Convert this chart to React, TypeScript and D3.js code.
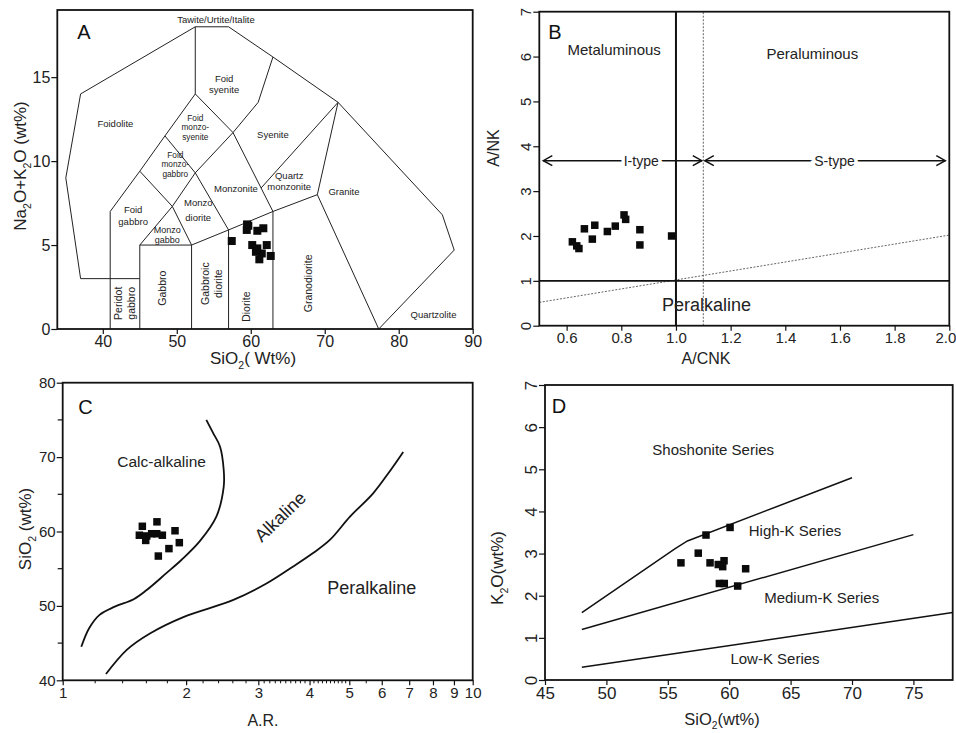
import React, { useEffect, useRef } from 'react';
import * as d3 from 'd3';

// ---------- Panel A: TAS (Middlemost) ----------
const tasOutline = [[45, 3], [37, 3], [35, 9], [37, 14], [52.5, 18], [57, 18], [63, 16.2], [71.8, 13.5], [85.9, 6.8], [87.5, 4.7], [77.3, 0]];
const tasLines = [
    [[52.5, 18], [52.5, 14]],
    [[41, 7], [45, 9.4], [48.4, 11.5], [52.5, 14], [57.6, 11.7], [61, 13.5], [63, 16.2]],
    [[41, 0], [41, 7]],
    [[45, 0], [45, 5], [49.4, 7.3], [52.5, 9.3], [57.6, 11.7]],
    [[45, 9.4], [49.4, 7.3], [52, 5]],
    [[48.4, 11.5], [52.5, 9.3], [57, 5.9]],
    [[57.6, 11.7], [63, 7]],
    [[61.4, 8.4], [71.8, 13.5]],
    [[69, 8], [71.8, 13.5]],
    [[45, 5], [52, 5], [57, 5.9], [63, 7], [69, 8], [77.3, 0]],
    [[52, 0], [52, 5]],
    [[57, 0], [57, 5.9]],
    [[63, 0], [63, 7]],
];
const tasLabels = [
    { t: ['Tawite/Urtite/Italite'], x: 55.3, y: 18.4, gap: 10, fs: 9.5 },
    { t: ['Foidolite'], x: 41.7, y: 12.2, gap: 10, fs: 9.5 },
    { t: ['Foid', 'syenite'], x: 56.4, y: 14.6, gap: 11, fs: 9.5 },
    { t: ['Foid', 'monzo-', 'syenite'], x: 52.5, y: 12.0, gap: 9.2, fs: 8.3 },
    { t: ['Syenite'], x: 63.0, y: 11.55, gap: 10, fs: 9.5 },
    { t: ['Foid', 'monzo-', 'gabbro'], x: 49.8, y: 9.8, gap: 9.2, fs: 8.3 },
    { t: ['Quartz', 'monzonite'], x: 65.2, y: 8.8, gap: 11, fs: 9.5 },
    { t: ['Monzonite'], x: 58.0, y: 8.38, gap: 10, fs: 9.5 },
    { t: ['Granite'], x: 72.6, y: 8.15, gap: 10, fs: 9.5 },
    { t: ['Foid', 'gabbro'], x: 44.1, y: 6.75, gap: 12.5, fs: 9.5 },
    { t: ['Monzo', 'diorite'], x: 52.9, y: 7.05, gap: 15, fs: 9.5 },
    { t: ['Monzo', 'gabbo'], x: 48.7, y: 5.6, gap: 10.5, fs: 9 },
    { t: ['Quartzolite'], x: 84.7, y: 0.86, gap: 10, fs: 9.5 },
];
const tasVertLabels = [
    { t: ['Peridot', 'gabbro'], x: 42.95, y: 1.53 },
    { t: ['Gabbro'], x: 48.0, y: 2.43 },
    { t: ['Gabbroic', 'diorite'], x: 54.75, y: 2.7 },
    { t: ['Diorite'], x: 59.45, y: 1.33 },
    { t: ['Granodiorite'], x: 67.8, y: 2.72 },
];
const samplesA = [
    [59.67, 6.15], [59.46, 5.9], [60.89, 5.85], [61.7, 6.0], [57.43, 5.24], [60.2, 5.0],
    [60.89, 4.8], [62.16, 5.0], [61.49, 4.5], [61.16, 4.15], [62.7, 4.35], [60.7, 4.6], [59.5, 6.23],
];
const ticksA_x = [40, 50, 60, 70, 80, 90];
const ticksA_y = [0, 5, 10, 15];

// ---------- Panel B: A/CNK vs A/NK ----------
const samplesB = [
    [0.621, 1.87], [0.637, 1.78], [0.645, 1.72], [0.665, 2.16], [0.694, 1.93], [0.703, 2.24],
    [0.749, 2.10], [0.778, 2.22], [0.81, 2.47], [0.816, 2.37], [0.868, 2.14], [0.868, 1.80], [0.984, 2.0],
];
const ticksB_x = [0.6, 0.8, 1.0, 1.2, 1.4, 1.6, 1.8, 2.0];
const ticksB_y = [0, 1, 2, 3, 4, 5, 6, 7];
const diagonalB = [[0.5, 0.52], [2.0, 2.02]];
const typeArrowY = 3.68;

// ---------- Panel C: A.R. vs SiO2 ----------
const calcAlkCurve = [
    [1.11, 44.5], [1.16, 47], [1.23, 48.8], [1.34, 49.9], [1.49, 50.9], [1.6, 52.1], [1.79, 54.4],
    [1.95, 56.2], [2.16, 58.7], [2.37, 62], [2.47, 66], [2.47, 68.3], [2.42, 71.4], [2.33, 73.2], [2.24, 75],
];
const alkCurve = [
    [1.275, 40.85], [1.433, 44.1], [1.632, 46.3], [1.969, 48.5], [2.608, 50.8], [3.14, 53.0],
    [3.65, 55.3], [4.08, 57.1], [4.49, 58.9], [5.02, 62.0], [5.71, 65.1], [6.22, 67.8], [6.77, 70.7],
];
const samplesC = [
    [1.564, 60.7], [1.698, 61.3], [1.538, 59.5], [1.603, 59.4], [1.594, 58.8], [1.696, 59.7],
    [1.75, 59.5], [1.879, 60.1], [1.925, 58.5], [1.816, 57.7], [1.711, 56.7], [1.648, 59.7],
];
const ticksC_x = [1, 2, 3, 4, 5, 6, 7, 8, 9, 10];
const minorC_x = [1.2, 1.4, 1.6, 1.8, 2.2, 2.4, 2.6, 2.8, 3.1, 3.2, 3.3, 3.4, 3.5, 3.6, 3.7, 3.8, 3.9,
    4.1, 4.2, 4.3, 4.4, 4.5, 4.6, 4.7, 4.8, 4.9, 5.5];
const ticksC_y = [40, 50, 60, 70, 80];
const minorC_y = [45, 55, 65, 75];

// ---------- Panel D: SiO2 vs K2O ----------
const shoshoniteLine = [[48, 1.6], [55.6, 3.12], [56.6, 3.3], [70, 4.8]];
const highKLine = [[48, 1.2], [75, 3.45]];
const lowKLine = [[48, 0.3], [78.2, 1.6]];
const samplesD = [
    [58.11, 3.44], [60.07, 3.62], [56.07, 2.78], [57.48, 3.01], [58.44, 2.78], [59.11, 2.74],
    [59.58, 2.83], [59.47, 2.69], [61.34, 2.64], [59.2, 2.29], [59.6, 2.29], [60.69, 2.23],
];
const ticksD_x = [45, 50, 55, 60, 65, 70, 75];
const ticksD_y = [0, 1, 2, 3, 4, 5, 6, 7];

const FONT = '"Liberation Sans", Arial, Helvetica, sans-serif';

const App = () => {
    const svgRef = useRef(null);

    useEffect(() => {
        const svg = d3.select(svgRef.current);
        svg.selectAll('*').remove();

        // text with subscripts: odd entries are subscripts
        const subText = (sel, parts, fs) => {
            const shift = fs * 0.28;
            parts.forEach((p, i) => {
                const t = sel.append('tspan').text(p);
                if (i % 2 === 1) t.attr('font-size', fs * 0.62).attr('dy', shift);
                else if (i > 0) t.attr('dy', -shift);
            });
        };

        const frame = (g, x, y) => {
            g.append('rect')
                .attr('x', x.range()[0]).attr('y', y.range()[1])
                .attr('width', x.range()[1] - x.range()[0])
                .attr('height', y.range()[0] - y.range()[1])
                .attr('fill', 'none').attr('stroke', '#111').attr('stroke-width', 1.8);
        };

        const axes = (g, x, y, xt, yt, fmtX, fmtY, fs, rotY) => {
            const ax = g.append('g')
                .attr('transform', `translate(0,${y.range()[0]})`)
                .call(d3.axisBottom(x).tickValues(xt).tickFormat(fmtX).tickSize(5).tickSizeOuter(0));
            const ay = g.append('g')
                .attr('transform', `translate(${x.range()[0]},0)`)
                .call(d3.axisLeft(y).tickValues(yt).tickFormat(fmtY).tickSize(6).tickSizeOuter(0));
            [ax, ay].forEach((a) => {
                a.select('.domain').remove();
                a.attr('font-family', FONT).attr('font-size', fs).attr('color', '#111');
                a.selectAll('line').attr('stroke-width', 1.2);
                a.selectAll('text').attr('fill', '#222');
            });
            ax.selectAll('text').attr('y', 7);
            ay.selectAll('text').attr('x', -7);
            if (rotY) {
                ay.selectAll('text')
                    .attr('transform', 'rotate(-90)')
                    .attr('x', 0).attr('y', -8).attr('dy', 0)
                    .attr('text-anchor', 'middle');
            }
            return ax;
        };

        const squares = (g, x, y, pts, s) => {
            g.append('g').selectAll('rect').data(pts).enter().append('rect')
                .attr('x', (d) => x(d[0]) - s / 2).attr('y', (d) => y(d[1]) - s / 2)
                .attr('width', s).attr('height', s).attr('fill', '#0a0a0a');
        };

        const label = (g, str, px, py, fs, anchor = 'middle') =>
            g.append('text').attr('x', px).attr('y', py).attr('dy', '0.35em')
                .attr('text-anchor', anchor).attr('font-family', FONT).attr('font-size', fs)
                .attr('fill', '#222').text(str);

        const yTitle = (g, parts, px, py, fs) => {
            const t = g.append('text').attr('transform', `translate(${px},${py}) rotate(-90)`)
                .attr('text-anchor', 'middle').attr('dy', '0.35em')
                .attr('font-family', FONT).attr('font-size', fs).attr('fill', '#222');
            subText(t, parts, fs);
        };
        const xTitle = (g, parts, px, py, fs) => {
            const t = g.append('text').attr('x', px).attr('y', py)
                .attr('text-anchor', 'middle').attr('dy', '0.35em')
                .attr('font-family', FONT).attr('font-size', fs).attr('fill', '#222');
            subText(t, parts, fs);
        };
        const letter = (g, s, x, y, dx, dy) =>
            g.append('text').attr('x', x.range()[0] + dx).attr('y', y.range()[1] + dy)
                .attr('font-family', FONT).attr('font-size', 20).attr('fill', '#111').text(s);

        // ============ A ============
        const gA = svg.append('g');
        const xA = d3.scaleLinear().domain([33.85, 90]).range([57.3, 472.7]);
        const yA = d3.scaleLinear().domain([0, 19]).range([329, 10]);
        const lineA = d3.line().x((d) => xA(d[0])).y((d) => yA(d[1]));
        gA.append('path').attr('d', lineA(tasOutline)).attr('fill', 'none').attr('stroke', '#222').attr('stroke-width', 1);
        gA.selectAll('.fld').data(tasLines).enter().append('path').attr('class', 'fld')
            .attr('d', (d) => lineA(d)).attr('fill', 'none').attr('stroke', '#222').attr('stroke-width', 1);
        tasLabels.forEach((l) => {
            const n = l.t.length;
            l.t.forEach((s, i) => label(gA, s, xA(l.x), yA(l.y) + (i - (n - 1) / 2) * l.gap, l.fs));
        });
        tasVertLabels.forEach((l) => {
            const n = l.t.length;
            l.t.forEach((s, i) => {
                gA.append('text')
                    .attr('transform', `translate(${xA(l.x) + (i - (n - 1) / 2) * 12.5},${yA(l.y)}) rotate(-90)`)
                    .attr('text-anchor', 'middle').attr('dy', '0.35em')
                    .attr('font-family', FONT).attr('font-size', 10.5).attr('fill', '#222').text(s);
            });
        });
        squares(gA, xA, yA, samplesA, 8);
        frame(gA, xA, yA);
        axes(gA, xA, yA, ticksA_x, ticksA_y, d3.format('d'), d3.format('d'), 16, false);
        letter(gA, 'A', xA, yA, 20, 29);
        yTitle(gA, ['Na', '2', 'O+K', '2', 'O (wt%)'], 20, 166, 17);
        xTitle(gA, ['SiO', '2', '( Wt%)'], 253, 358, 17);

        // ============ B ============
        const gB = svg.append('g');
        const xB = d3.scaleLinear().domain([0.5, 2.0]).range([539.3, 949.3]);
        const yB = d3.scaleLinear().domain([0, 7]).range([325.7, 11.7]);
        const lineB = d3.line().x((d) => xB(d[0])).y((d) => yB(d[1]));
        gB.append('path').attr('d', lineB(diagonalB)).attr('fill', 'none').attr('stroke', '#555')
            .attr('stroke-width', 0.9).attr('stroke-dasharray', '2,1.5');
        gB.append('line').attr('x1', xB(1.1)).attr('x2', xB(1.1)).attr('y1', yB(0)).attr('y2', yB(7))
            .attr('stroke', '#555').attr('stroke-width', 0.9).attr('stroke-dasharray', '2,1.5');
        gB.append('line').attr('x1', xB(1.0)).attr('x2', xB(1.0)).attr('y1', yB(0)).attr('y2', yB(7))
            .attr('stroke', '#111').attr('stroke-width', 2);
        gB.append('line').attr('x1', xB(0.5)).attr('x2', xB(2.0)).attr('y1', yB(1)).attr('y2', yB(1))
            .attr('stroke', '#111').attr('stroke-width', 1.6);
        // double arrows for I-type / S-type
        const ay = yB(typeArrowY);
        const arrows = [[xB(0.5) + 4, xB(1.1) - 1.5], [xB(1.1) + 1.5, xB(2.0) - 4]];
        arrows.forEach(([a, b]) => {
            gB.append('line').attr('x1', a).attr('x2', b).attr('y1', ay).attr('y2', ay)
                .attr('stroke', '#111').attr('stroke-width', 1.5);
            gB.append('path').attr('d', `M${a + 9},${ay - 5}L${a},${ay}L${a + 9},${ay + 5}`)
                .attr('fill', 'none').attr('stroke', '#111').attr('stroke-width', 1.5);
            gB.append('path').attr('d', `M${b - 9},${ay - 5}L${b},${ay}L${b - 9},${ay + 5}`)
                .attr('fill', 'none').attr('stroke', '#111').attr('stroke-width', 1.5);
        });
        [['I-type', 0.873], ['S-type', 1.58]].forEach(([s, v]) => {
            label(gB, s, xB(v), ay, 14)
                .attr('stroke', '#fff').attr('stroke-width', 7).attr('paint-order', 'stroke');
        });
        label(gB, 'Metaluminous', xB(0.774), yB(6.15), 15);
        label(gB, 'Peraluminous', xB(1.499), yB(6.07), 15);
        label(gB, 'Peralkaline', xB(1.112), yB(0.46), 18);
        squares(gB, xB, yB, samplesB, 7.5);
        frame(gB, xB, yB);
        const axB = axes(gB, xB, yB, ticksB_x, ticksB_y, d3.format('.1f'), d3.format('d'), 15, true);
        axB.selectAll('text').filter((d) => d === 2.0).attr('x', -4);
        letter(gB, 'B', xB, yB, 9, 27);
        yTitle(gB, ['A/NK'], 493, 148, 16);
        xTitle(gB, ['A/CNK'], 706, 358, 16);

        // ============ C ============
        const gC = svg.append('g');
        const xC = d3.scaleLog().domain([1, 10]).range([62.7, 472.7]);
        const yC = d3.scaleLinear().domain([40, 80]).range([680.3, 382.7]);
        const lineC = d3.line().x((d) => xC(d[0])).y((d) => yC(d[1])).curve(d3.curveCatmullRom);
        [calcAlkCurve, alkCurve].forEach((c) => {
            gC.append('path').attr('d', lineC(c)).attr('fill', 'none').attr('stroke', '#111').attr('stroke-width', 1.8);
        });
        label(gC, 'Calc-alkaline', xC(1.743), yC(69.4), 15.5);
        label(gC, 'Alkaline', 0, 0, 18).attr('transform', `translate(${xC(3.39)},${yC(62.0)}) rotate(-44)`);
        label(gC, 'Peralkaline', xC(5.67), yC(52.4), 18);
        squares(gC, xC, yC, samplesC, 7.5);
        frame(gC, xC, yC);
        axes(gC, xC, yC, ticksC_x, ticksC_y, d3.format('d'), d3.format('d'), 15, false);
        gC.append('g').selectAll('line').data(minorC_x).enter().append('line')
            .attr('x1', (d) => xC(d)).attr('x2', (d) => xC(d)).attr('y1', yC(40)).attr('y2', yC(40) + 3)
            .attr('stroke', '#111').attr('stroke-width', 1);
        gC.append('g').selectAll('line').data(minorC_y).enter().append('line')
            .attr('x1', xC(1)).attr('x2', xC(1) - 5).attr('y1', (d) => yC(d)).attr('y2', (d) => yC(d))
            .attr('stroke', '#111').attr('stroke-width', 1.2);
        letter(gC, 'C', xC, yC, 15.6, 31);
        yTitle(gC, ['SiO', '2', ' (wt%)'], 25, 529, 17);
        xTitle(gC, ['A.R.'], 263, 720, 16);

        // ============ D ============
        const gD = svg.append('g');
        const xD = d3.scaleLinear().domain([45, 78.2]).range([545, 952.7]);
        const yD = d3.scaleLinear().domain([0, 7]).range([680, 385]);
        const lineD = d3.line().x((d) => xD(d[0])).y((d) => yD(d[1]));
        [shoshoniteLine, highKLine, lowKLine].forEach((c) => {
            gD.append('path').attr('d', lineD(c)).attr('fill', 'none').attr('stroke', '#111').attr('stroke-width', 1.5);
        });
        label(gD, 'Shoshonite Series', xD(58.7), yD(5.47), 15);
        label(gD, 'High-K Series', xD(65.36), yD(3.54), 15);
        label(gD, 'Medium-K Series', xD(67.53), yD(1.94), 15);
        label(gD, 'Low-K Series', xD(63.73), yD(0.515), 15);
        squares(gD, xD, yD, samplesD, 7.5);
        frame(gD, xD, yD);
        axes(gD, xD, yD, ticksD_x, ticksD_y, d3.format('d'), d3.format('d'), 17, true);
        letter(gD, 'D', xD, yD, 6.7, 28);
        yTitle(gD, ['K', '2', 'O(wt%)'], 497, 568, 17);
        xTitle(gD, ['SiO', '2', '(wt%)'], 722, 719, 16.5);
    }, []);

    return (
        <svg ref={svgRef} width={956} height={733}
            style={{ position: 'absolute', left: 0, top: 0, background: '#fff' }}></svg>
    );
};

export default App;
